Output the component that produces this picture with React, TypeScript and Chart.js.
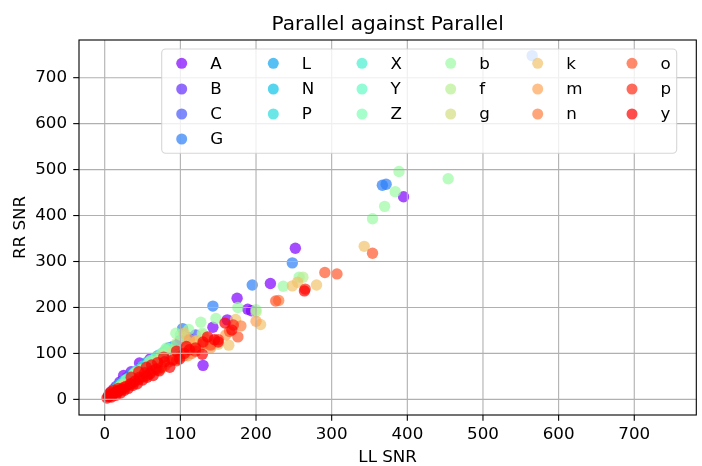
import React, { useEffect, useRef } from 'react';
import { Chart, registerables } from 'chart.js';

Chart.register(...registerables);

// ---- Data: [LL SNR, RR SNR] pairs per series ----
const seriesLabels = ['A', 'B', 'C', 'G', 'L', 'N', 'P', 'X', 'Y', 'Z', 'b', 'f', 'g', 'k', 'm', 'n', 'o', 'p', 'y'];

const A_pts = [[6, 8], [12, 22], [20, 38], [25, 52], [35, 60], [46, 79], [60, 88], [81, 101], [85, 112], [100, 128], [130, 74], [143, 157], [162, 173], [175, 220], [189, 196], [194, 193], [219, 252], [252, 329], [395, 441]];
const B_pts = [[10, 18], [15, 28], [30, 48], [48, 70], [55, 75], [70, 92], [90, 112], [110, 135]];
const C_pts = [[8, 15], [25, 40], [40, 58], [62, 80], [95, 118], [120, 140]];
const G_pts = [[5, 8], [15, 25], [30, 45], [60, 82], [80, 105], [103, 154], [143, 203], [195, 249], [248, 297], [367, 466], [372, 468], [565, 748]];
const L_pts = [[10, 16], [20, 32], [35, 55], [55, 80], [70, 95]];
const N_pts = [[8, 13], [18, 30], [40, 60], [62, 86], [90, 115]];
const P_pts = [[12, 20], [25, 40], [45, 65], [65, 88]];
const X_pts = [[14, 22], [30, 45], [50, 72], [75, 100]];
const Y_pts = [[22, 33], [38, 55], [58, 80], [85, 110]];
const Z_pts = [[10, 16], [28, 42], [42, 60], [68, 92], [82, 112], [100, 140]];
const b_pts = [[40, 58], [60, 84], [80, 108], [94, 144], [105, 135], [111, 152], [127, 168], [129, 144], [147, 176], [176, 200], [200, 195], [236, 246], [257, 266], [354, 393], [370, 420], [384, 452], [389, 496], [454, 480]];
const f_pts = [[20, 28], [50, 66], [75, 98], [95, 122], [110, 125], [130, 140], [200, 190], [262, 266]];
const g_pts = [[25, 32], [45, 58], [70, 84], [90, 104], [120, 125]];
const k_pts = [[30, 32], [50, 50], [70, 72], [90, 85], [100, 98], [105, 112], [105, 144], [115, 110], [120, 125], [122, 128], [135, 130], [150, 120], [164, 118], [173, 174], [206, 163], [248, 247], [255, 255], [280, 249], [343, 333]];
const m_pts = [[15, 15], [35, 34], [55, 52], [75, 68], [95, 88], [110, 95], [112, 130], [125, 110], [140, 112], [160, 140], [200, 170]];
const n_pts = [[20, 20], [40, 38], [60, 58], [80, 74], [105, 95], [115, 100], [140, 120], [180, 160], [230, 215]];
const o_pts = [[25, 24], [50, 48], [70, 64], [85, 82], [100, 94], [130, 120], [140, 118], [165, 148], [176, 136], [226, 214], [291, 276], [307, 273], [354, 318]];
const p_pts = [[8, 8], [18, 17], [25, 26], [35, 33], [45, 44], [55, 52], [62, 62], [75, 70], [95, 84], [120, 105], [150, 130], [170, 162], [265, 240]];
const y_pts = [[3, 3], [5, 6], [6, 12], [7, 9], [8, 16], [9, 5], [11, 12], [12, 20], [13, 14], [15, 9], [17, 17], [18, 24], [19, 20], [21, 14], [23, 22], [26, 20], [28, 28], [31, 24], [34, 34], [35, 48], [37, 30], [40, 40], [43, 34], [45, 60], [46, 48], [50, 42], [53, 58], [55, 70], [56, 48], [60, 56], [62, 75], [64, 52], [68, 66], [70, 80], [72, 62], [78, 92], [79, 82], [86, 70], [90, 86], [95, 105], [99, 88], [105, 100], [108, 115], [112, 108], [120, 112], [129, 98], [130, 125], [136, 136], [145, 130], [150, 125], [159, 166], [168, 151], [264, 236]];

const seriesPoints = [A_pts, B_pts, C_pts, G_pts, L_pts, N_pts, P_pts, X_pts, Y_pts, Z_pts, b_pts, f_pts, g_pts, k_pts, m_pts, n_pts, o_pts, p_pts, y_pts];

const tickValues = [0, 100, 200, 300, 400, 500, 600, 700];
const axisMin = -34;
const axisMax = 782;

const titleText = 'Parallel against Parallel';
const xTitle = 'LL SNR';
const yTitle = 'RR SNR';

// ---- Styling ----
const FONT = '"DejaVu Sans", sans-serif';
const ALPHA = 0.7;

function rainbow(t: number, a: number) {
  const r = Math.min(1, Math.abs(2 * t - 0.5));
  const g = Math.sin(Math.PI * t);
  const b = Math.cos((Math.PI * t) / 2);
  return `rgba(${Math.round(r * 255)},${Math.round(g * 255)},${Math.round(Math.max(0, b) * 255)},${a})`;
}

const legendCols = [181.7, 273.3, 362, 450.7, 537.7, 632];
const legendRows = [63.3, 89, 114, 139];

const decorPlugin = {
  id: 'decor',
  afterDatasetsDraw(chart: any) {
    const { ctx, chartArea } = chart;
    const xs = chart.scales.x;
    const ys = chart.scales.y;
    ctx.save();
    ctx.strokeStyle = '#b0b0b0';
    ctx.lineWidth = 1.1;
    tickValues.forEach((v) => {
      const px = xs.getPixelForValue(v);
      ctx.beginPath();
      ctx.moveTo(px, chartArea.top);
      ctx.lineTo(px, chartArea.bottom);
      ctx.stroke();
      const py = ys.getPixelForValue(v);
      ctx.beginPath();
      ctx.moveTo(chartArea.left, py);
      ctx.lineTo(chartArea.right, py);
      ctx.stroke();
    });
    ctx.strokeStyle = '#000';
    ctx.lineWidth = 1.1;
    ctx.strokeRect(chartArea.left, chartArea.top, chartArea.right - chartArea.left, chartArea.bottom - chartArea.top);
    tickValues.forEach((v) => {
      const px = xs.getPixelForValue(v);
      ctx.beginPath();
      ctx.moveTo(px, chartArea.bottom);
      ctx.lineTo(px, chartArea.bottom + 5.8);
      ctx.stroke();
      const py = ys.getPixelForValue(v);
      ctx.beginPath();
      ctx.moveTo(chartArea.left, py);
      ctx.lineTo(chartArea.left - 5.8, py);
      ctx.stroke();
    });
    ctx.restore();
  },
  afterDraw(chart: any) {
    const { ctx, chartArea } = chart;
    ctx.save();
    const lx = 161.7, ly = 49, lw = 676.7 - 161.7, lh = 153.3 - 49;
    ctx.beginPath();
    ctx.roundRect(lx, ly, lw, lh, 4);
    ctx.fillStyle = 'rgba(255,255,255,0.8)';
    ctx.fill();
    ctx.strokeStyle = 'rgba(204,204,204,0.8)';
    ctx.lineWidth = 1.1;
    ctx.stroke();
    const n = seriesLabels.length;
    let idx = 0;
    const perCol = [4, 3, 3, 3, 3, 3];
    ctx.font = `16.7px ${FONT}`;
    ctx.textBaseline = 'middle';
    ctx.textAlign = 'left';
    perCol.forEach((cnt, c) => {
      for (let r = 0; r < cnt && idx < n; r++, idx++) {
        const mx = legendCols[c];
        const my = legendRows[r];
        ctx.beginPath();
        ctx.arc(mx, my, 5.5, 0, Math.PI * 2);
        ctx.fillStyle = rainbow(idx / (n - 1), ALPHA);
        ctx.fill();
        ctx.fillStyle = '#000';
        ctx.fillText(seriesLabels[idx], mx + 28.5, my + 1);
      }
    });
    const cx = (chartArea.left + chartArea.right) / 2;
    ctx.font = `20px ${FONT}`;
    ctx.textAlign = 'center';
    ctx.textBaseline = 'alphabetic';
    ctx.fillText(titleText, cx, 30);
    ctx.font = `16.7px ${FONT}`;
    ctx.fillText(xTitle, cx, 462);
    ctx.save();
    ctx.translate(25, (chartArea.top + chartArea.bottom) / 2);
    ctx.rotate(-Math.PI / 2);
    ctx.fillText(yTitle, 0, 0);
    ctx.restore();
    ctx.restore();
  },
};

export default function App() {
  const ref = useRef<HTMLCanvasElement | null>(null);
  useEffect(() => {
    document.body.style.margin = '0';
    const n = seriesLabels.length;
    const datasets = seriesLabels.map((label, i) => ({
      label,
      data: seriesPoints[i].map(([x, y]) => ({ x, y })),
      backgroundColor: rainbow(i / (n - 1), ALPHA),
      borderWidth: 0,
      pointRadius: 5.7,
      pointHoverRadius: 5.7,
      order: n - 1 - i,
    }));
    const setTicks = (scale: any) => {
      scale.ticks = tickValues.map((v) => ({ value: v }));
    };
    const chart = new Chart(ref.current as HTMLCanvasElement, {
      type: 'scatter',
      data: { datasets },
      options: {
        animation: false,
        responsive: false,
        layout: { padding: { top: 40, right: 2, left: 0, bottom: 0 } },
        plugins: { legend: { display: false }, title: { display: false }, tooltip: { enabled: false } },
        scales: {
          x: {
            type: 'linear',
            min: axisMin,
            max: axisMax,
            afterBuildTicks: setTicks,
            afterFit: (s: any) => { s.height = 51; },
            grid: { display: false, drawTicks: false },
            border: { display: false },
            ticks: { font: { family: FONT, size: 16.7 }, color: '#000', padding: 10, maxRotation: 0 },
          },
          y: {
            type: 'linear',
            min: axisMin,
            max: axisMax,
            afterBuildTicks: setTicks,
            afterFit: (s: any) => { s.width = 79; },
            grid: { display: false, drawTicks: false },
            border: { display: false },
            ticks: { font: { family: FONT, size: 16.7 }, color: '#000', padding: 12 },
          },
        },
      },
      plugins: [decorPlugin],
    });
    return () => chart.destroy();
  }, []);
  return (
    <div style={{ width: 702, height: 466 }}>
      <canvas ref={ref} width={702} height={466} style={{ display: 'block' }} />
    </div>
  );
}
